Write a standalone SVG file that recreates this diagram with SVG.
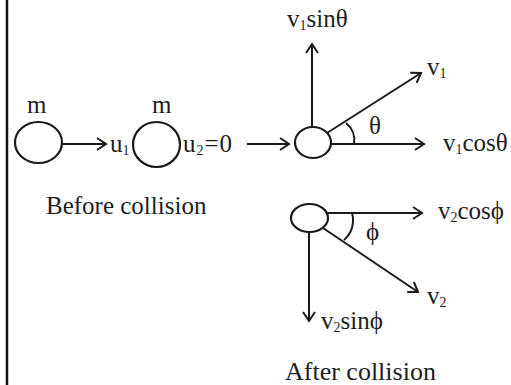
<svg xmlns="http://www.w3.org/2000/svg" width="511" height="385" viewBox="0 0 511 385">
<defs>
<marker id="ah" viewBox="-11 -8 13 16" markerWidth="13" markerHeight="16" refX="0" refY="0" orient="auto" markerUnits="userSpaceOnUse">
<path d="M-9,-6 L0,0 L-9,6" fill="none" stroke="#1a1a1a" stroke-width="2"/>
</marker>
<style>
.t{font-family:"Liberation Serif","DejaVu Serif",serif;font-size:25px;fill:#1e1e1e}
.s{font-size:14px}
.ln{stroke:#1a1a1a;stroke-width:2;fill:none}
.ar{stroke:#1a1a1a;stroke-width:2;fill:none;marker-end:url(#ah)}
.b{stroke:#1a1a1a;stroke-width:2.2;fill:#fff}
</style>
</defs>
<rect width="511" height="385" fill="#fff"/>
<line x1="7" y1="0" x2="7" y2="385" stroke="#111" stroke-width="2.5"/>

<g id="ball1">
<ellipse class="b" cx="38.5" cy="142.5" rx="23.5" ry="20.5"/>
<text class="t" x="27" y="113">m</text>
</g>
<g id="ball2">
<ellipse class="b" cx="156.5" cy="144.5" rx="23.5" ry="22.5"/>
<text class="t" x="152" y="113">m</text>
</g>
<g id="ball3">
<ellipse class="b" cx="313" cy="142.5" rx="18" ry="15.5"/>
</g>
<g id="ball4">
<ellipse class="b" cx="309.5" cy="218" rx="18.5" ry="14"/>
</g>

<g id="connectors">
<line class="ar" x1="62" y1="144" x2="106" y2="144"/>
<line class="ar" x1="247" y1="144" x2="289" y2="144"/>
<line class="ar" x1="312" y1="127" x2="312" y2="44"/>
<line class="ar" x1="327" y1="133" x2="421" y2="73"/>
<line class="ar" x1="331" y1="144" x2="424" y2="144"/>
<path class="ln" d="M346,123 A22,22 0 0 1 354,144"/>
<line class="ar" x1="327" y1="213" x2="422" y2="213"/>
<line class="ar" x1="323" y1="228" x2="418" y2="292"/>
<line class="ar" x1="309" y1="232" x2="309" y2="321"/>
<path class="ln" d="M352,213 A26,26 0 0 1 344,240"/>
</g>

<g id="labels">
<text class="t" x="110" y="152">u<tspan class="s" dy="3">1</tspan></text>
<text class="t" x="183" y="152" letter-spacing="1">u<tspan class="s" dy="3">2</tspan><tspan dy="-3">=0</tspan></text>
<text class="t" x="287" y="27">v<tspan class="s" dy="3">1</tspan><tspan dy="-3">sinθ</tspan></text>
<text class="t" x="427" y="75">v<tspan class="s" dy="3">1</tspan></text>
<text class="t" x="369" y="134">θ</text>
<text class="t" x="443" y="151">v<tspan class="s" dy="3">1</tspan><tspan dy="-3">cosθ</tspan></text>
<text class="t" x="46" y="214">Before collision</text>
<text class="t" x="438" y="219">v<tspan class="s" dy="3">2</tspan><tspan dy="-3">cosϕ</tspan></text>
<text class="t" x="366" y="240">ϕ</text>
<text class="t" x="427" y="304">v<tspan class="s" dy="3">2</tspan></text>
<text class="t" x="321" y="329">v<tspan class="s" dy="3">2</tspan><tspan dy="-3">sinϕ</tspan></text>
<text class="t" x="285" y="380" style="font-size:26px">After collision</text>
</g>
</svg>
